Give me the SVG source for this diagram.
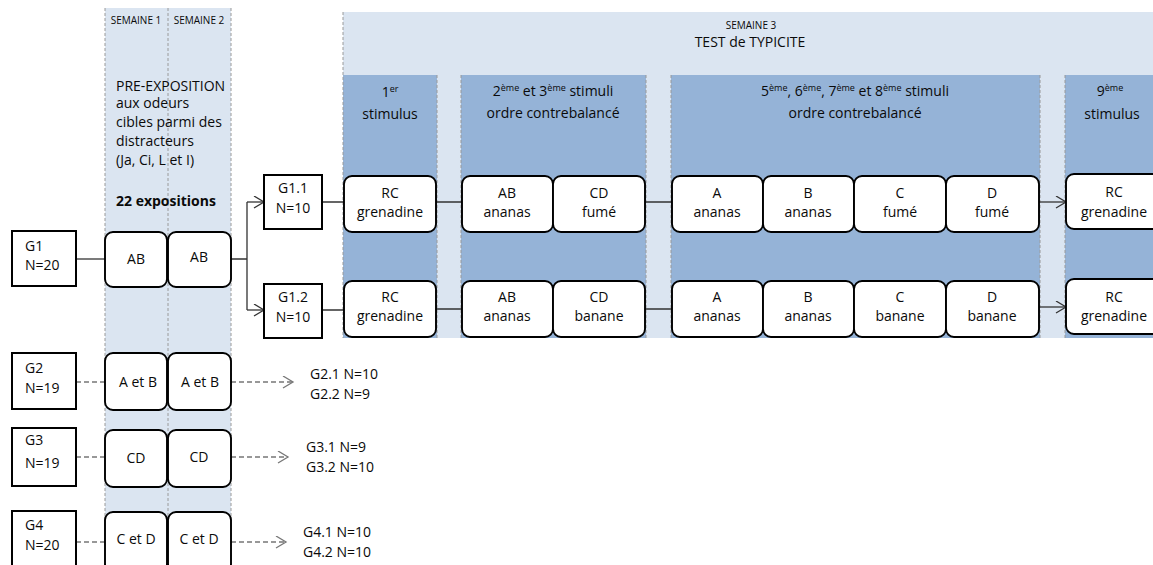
<svg xmlns="http://www.w3.org/2000/svg" width="1153" height="565" viewBox="0 0 1153 565">
<style>
text{font-family:"Open Sans","Liberation Sans",sans-serif;font-size:14px;fill:#0a0a0a}
.c{text-anchor:middle}
.s{font-size:10px}
.b{font-weight:bold}
.sup{font-size:9px}
.band{fill:#dbe5f1}
.dark{fill:#95b3d7}
.dl{stroke:#9a9a9a;stroke-width:1;stroke-dasharray:3 2;fill:none}
.sq{fill:#fff;stroke:#000;stroke-width:2}
.rn{fill:#fff;stroke:#000;stroke-width:1.9}
.ln{stroke:#333;stroke-width:1.3;fill:none}
.dash{stroke:#777;stroke-width:1.3;fill:none;stroke-dasharray:5 3}
</style>
<defs>
<marker id="ah" markerUnits="userSpaceOnUse" markerWidth="14" markerHeight="14" refX="11" refY="6" orient="auto">
<path d="M1,0 L11,6 L1,12" fill="none" stroke="#333" stroke-width="1.3"/>
</marker>
<marker id="ahg" markerUnits="userSpaceOnUse" markerWidth="14" markerHeight="14" refX="11" refY="6" orient="auto">
<path d="M1,0 L11,6 L1,12" fill="none" stroke="#777" stroke-width="1.3"/>
</marker>
</defs>
<rect width="1153" height="565" fill="#fff"/>
<g id="bands">
<rect class="band" x="105" y="8" width="126" height="557"/>
<path class="dl" d="M105,8V565M168,8V565M231,8V565"/>
<rect class="band" x="343" y="12" width="810" height="326"/>
<rect class="dark" x="343" y="75" width="94" height="263"/>
<rect class="dark" x="461" y="75" width="185" height="263"/>
<rect class="dark" x="671" y="75" width="369" height="263"/>
<rect class="dark" x="1065" y="75" width="88" height="263"/>
<path class="dl" d="M343,12V338M437,75V338M461,75V338M646,75V338M671,75V338M1040,75V338M1065,75V338"/>
</g>
<g id="labels">
<text class="s c" x="136" y="24">SEMAINE 1</text>
<text class="s c" x="199" y="24">SEMAINE 2</text>
<text x="116" y="91">PRE-EXPOSITION</text>
<text x="116" y="108">aux odeurs</text>
<text x="116" y="127">cibles parmi des</text>
<text x="116" y="146">distracteurs</text>
<text x="116" y="165">(Ja, Ci, L et I)</text>
<text class="b" x="116" y="206">22 expositions</text>
<text class="s c" x="751" y="29">SEMAINE 3</text>
<text class="c" x="750" y="47">TEST de TYPICITE</text>
<text class="c" x="390" y="97">1<tspan class="sup" dy="-5">er</tspan></text>
<text class="c" x="390" y="119">stimulus</text>
<text class="c" x="553" y="96">2<tspan class="sup" dy="-5">ème</tspan><tspan dy="5"> et 3</tspan><tspan class="sup" dy="-5">ème</tspan><tspan dy="5"> stimuli</tspan></text>
<text class="c" x="553" y="118">ordre contrebalancé</text>
<text class="c" x="855" y="96">5<tspan class="sup" dy="-5">ème</tspan><tspan dy="5">, 6</tspan><tspan class="sup" dy="-5">ème</tspan><tspan dy="5">, 7</tspan><tspan class="sup" dy="-5">ème</tspan><tspan dy="5"> et 8</tspan><tspan class="sup" dy="-5">ème</tspan><tspan dy="5"> stimuli</tspan></text>
<text class="c" x="855" y="118">ordre contrebalancé</text>
<text class="c" x="1110" y="96">9<tspan class="sup" dy="-5">ème</tspan></text>
<text class="c" x="1112" y="119">stimulus</text>
</g>
<g id="connectors">
<path class="ln" d="M76,259H105"/>
<path class="ln" d="M231,259H247M247,202V310"/>
<path class="ln" d="M247,202H264" marker-end="url(#ah)"/>
<path class="ln" d="M247,310H264" marker-end="url(#ah)"/>
<path class="ln" d="M322,202H344M436,202H462M645,202H672"/>
<path class="ln" d="M1039,202H1066" marker-end="url(#ah)"/>
<path class="ln" d="M322,310H344M436,309H462M645,309H672"/>
<path class="ln" d="M1039,307H1066" marker-end="url(#ah)"/>
<path class="dash" d="M76,382H105M76,457H105M76,542H105"/>
<path class="dash" d="M231,382H293" marker-end="url(#ahg)"/>
<path class="dash" d="M231,457H288" marker-end="url(#ahg)"/>
<path class="dash" d="M231,542H286" marker-end="url(#ahg)"/>
</g>
<g id="G1"><rect class="sq" x="12" y="231" width="64" height="55"/><text x="25" y="251">G1</text><text x="25" y="270">N=20</text></g>
<g id="G1-AB1"><rect class="rn" x="105" y="232" width="62" height="55" rx="8"/><text class="c" x="136" y="264">AB</text></g>
<g id="G1-AB2"><rect class="rn" x="168" y="232" width="63" height="55" rx="8"/><text class="c" x="199" y="262">AB</text></g>
<g id="G1.1"><rect class="sq" x="264" y="175" width="58" height="54"/><text class="c" x="293" y="193">G1.1</text><text class="c" x="293" y="213">N=10</text></g>
<g id="G1.2"><rect class="sq" x="264" y="284" width="58" height="54"/><text class="c" x="293" y="302">G1.2</text><text class="c" x="293" y="322">N=10</text></g>
<g id="r1-RC"><rect class="rn" x="344" y="176" width="92" height="56" rx="8"/><text class="c" x="390" y="198">RC</text><text class="c" x="390" y="217">grenadine</text></g>
<g id="r1-AB"><rect class="rn" x="462" y="176" width="91" height="56" rx="8"/><text class="c" x="507" y="198">AB</text><text class="c" x="507" y="217">ananas</text></g>
<g id="r1-CD"><rect class="rn" x="553" y="176" width="92" height="56" rx="8"/><text class="c" x="599" y="198">CD</text><text class="c" x="599" y="217">fumé</text></g>
<g id="r1-A"><rect class="rn" x="672" y="176" width="91" height="56" rx="8"/><text class="c" x="717" y="198">A</text><text class="c" x="717" y="217">ananas</text></g>
<g id="r1-B"><rect class="rn" x="763" y="176" width="91" height="56" rx="8"/><text class="c" x="808" y="198">B</text><text class="c" x="808" y="217">ananas</text></g>
<g id="r1-C"><rect class="rn" x="854" y="176" width="92" height="56" rx="8"/><text class="c" x="900" y="198">C</text><text class="c" x="900" y="217">fumé</text></g>
<g id="r1-D"><rect class="rn" x="946" y="176" width="93" height="56" rx="8"/><text class="c" x="992" y="198">D</text><text class="c" x="992" y="217">fumé</text></g>
<g id="r1-RC9"><rect class="rn" x="1066" y="174" width="96" height="55" rx="8"/><text class="c" x="1114" y="197">RC</text><text class="c" x="1114" y="217">grenadine</text></g>
<g id="r2-RC"><rect class="rn" x="344" y="281" width="92" height="56" rx="8"/><text class="c" x="390" y="302">RC</text><text class="c" x="390" y="321">grenadine</text></g>
<g id="r2-AB"><rect class="rn" x="462" y="281" width="91" height="56" rx="8"/><text class="c" x="507" y="302">AB</text><text class="c" x="507" y="321">ananas</text></g>
<g id="r2-CD"><rect class="rn" x="553" y="281" width="92" height="56" rx="8"/><text class="c" x="599" y="302">CD</text><text class="c" x="599" y="321">banane</text></g>
<g id="r2-A"><rect class="rn" x="672" y="281" width="91" height="56" rx="8"/><text class="c" x="717" y="302">A</text><text class="c" x="717" y="321">ananas</text></g>
<g id="r2-B"><rect class="rn" x="763" y="281" width="91" height="56" rx="8"/><text class="c" x="808" y="302">B</text><text class="c" x="808" y="321">ananas</text></g>
<g id="r2-C"><rect class="rn" x="854" y="281" width="92" height="56" rx="8"/><text class="c" x="900" y="302">C</text><text class="c" x="900" y="321">banane</text></g>
<g id="r2-D"><rect class="rn" x="946" y="281" width="93" height="56" rx="8"/><text class="c" x="992" y="302">D</text><text class="c" x="992" y="321">banane</text></g>
<g id="r2-RC9"><rect class="rn" x="1066" y="279" width="96" height="55" rx="8"/><text class="c" x="1114" y="302">RC</text><text class="c" x="1114" y="321">grenadine</text></g>
<g id="G2"><rect class="sq" x="12" y="353" width="64" height="56"/><text x="25" y="373">G2</text><text x="25" y="393">N=19</text></g>
<g id="G2-AB1"><rect class="rn" x="105" y="353" width="62" height="57" rx="8"/><text class="c" x="138" y="387">A et B</text></g>
<g id="G2-AB2"><rect class="rn" x="168" y="353" width="63" height="57" rx="8"/><text class="c" x="200" y="387">A et B</text></g>
<g id="G2-out"><text x="310" y="379">G2.1 N=10</text><text x="310" y="399">G2.2 N=9</text></g>
<g id="G3"><rect class="sq" x="12" y="428" width="64" height="58"/><text x="25" y="445">G3</text><text x="25" y="468">N=19</text></g>
<g id="G3-CD1"><rect class="rn" x="105" y="430" width="62" height="57" rx="8"/><text class="c" x="136" y="463">CD</text></g>
<g id="G3-CD2"><rect class="rn" x="168" y="430" width="63" height="57" rx="8"/><text class="c" x="199" y="462">CD</text></g>
<g id="G3-out"><text x="306" y="452">G3.1 N=9</text><text x="306" y="472">G3.2 N=10</text></g>
<g id="G4"><rect class="sq" x="12" y="511" width="64" height="60"/><text x="25" y="530">G4</text><text x="25" y="550">N=20</text></g>
<g id="G4-CD1"><rect class="rn" x="105" y="512" width="62" height="60" rx="8"/><text class="c" x="136" y="544">C et D</text></g>
<g id="G4-CD2"><rect class="rn" x="168" y="512" width="63" height="60" rx="8"/><text class="c" x="199" y="544">C et D</text></g>
<g id="G4-out"><text x="303" y="537">G4.1 N=10</text><text x="303" y="557">G4.2 N=10</text></g>
</svg>
